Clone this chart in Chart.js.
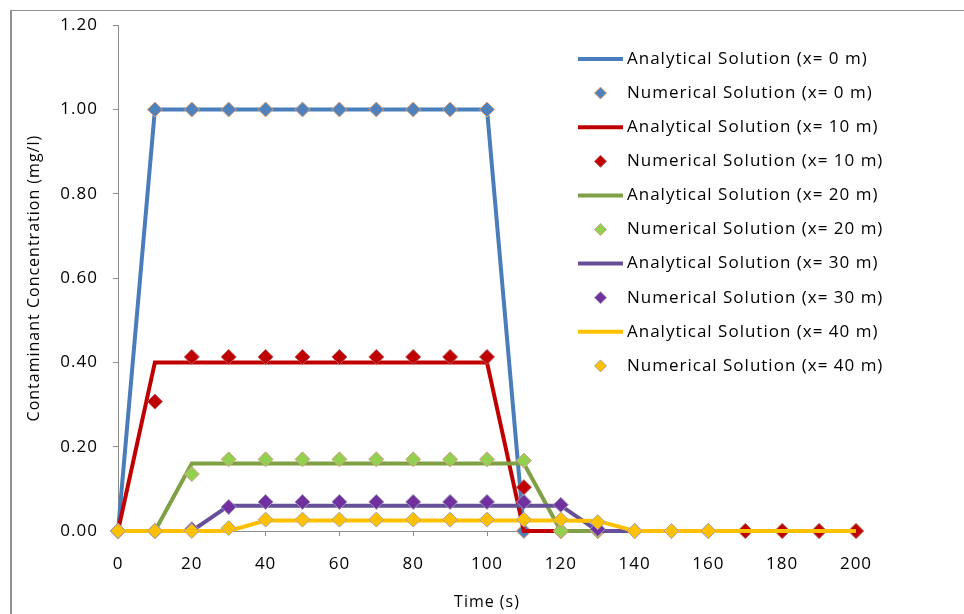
<!DOCTYPE html>
<html>
<head>
<meta charset="utf-8">
<script src="https://cdn.jsdelivr.net/npm/chart.js@4.4.1/dist/chart.umd.min.js"></script>
<style>
    body { margin: 0; background: #fff; }
    #contenedor { width: 964px; height: 614px; position: relative; }
</style>
</head>
<body>
<div id="contenedor"><canvas id="graficaconc"></canvas></div>
<script>
// tiempos (s)
var tiempo = [0,10,20,30,40,50,60,70,80,90,100,110,120,130,140,150,160,170,180,190,200];

// solucion analitica por distancia
var anal0  = [0,1,1,1,1,1,1,1,1,1,1,0,0,0,0,0,0,0,0,0,0];
var anal10 = [0,0.40,0.40,0.40,0.40,0.40,0.40,0.40,0.40,0.40,0.40,0,0,0,0,0,0,0,0,0,0];
var anal20 = [0,0,0.16,0.16,0.16,0.16,0.16,0.16,0.16,0.16,0.16,0.16,0,0,0,0,0,0,0,0,0];
var anal30 = [0,0,0,0.06,0.06,0.06,0.06,0.06,0.06,0.06,0.06,0.06,0.06,0,0,0,0,0,0,0,0];
var anal40 = [0,0,0,0,0.025,0.025,0.025,0.025,0.025,0.025,0.025,0.025,0.025,0.024,0,0,0,0,0,0,0];

// solucion numerica por distancia (null = sin dato)
var num0  = [0,1,1,1,1,1,1,1,1,1,1,0,0,0,0,0,0,0,0,0,0];
var num10 = [0,0.307,0.413,0.413,0.413,0.413,0.413,0.413,0.413,0.413,0.413,0.104,0,0,0,0,0,0,0,0,0];
var num20 = [0,0,0.135,0.17,0.17,0.17,0.17,0.17,0.17,0.17,0.17,0.167,0,0,0,0,0,null,null,null,null];
var num30 = [0,0,0.004,0.057,0.069,0.069,0.069,0.069,0.069,0.069,0.069,0.069,0.062,0.005,0,0,0,null,null,null,null];
var num40 = [0,0,0,0.007,0.027,0.027,0.027,0.027,0.027,0.027,0.027,0.027,0.027,0.021,0,0,0,null,null,null,null];

var ejeY = [0,0.2,0.4,0.6,0.8,1.0,1.2];

var fuente = 'Open Sans';

function puntos(valores){
    var res = [];
    for (var i = 0; i < tiempo.length; i++) {
        if (valores[i] !== null) res.push({x: tiempo[i], y: valores[i]});
    }
    return res;
}

function analitica(nombre, valores, color){
    return {
        label: nombre, data: puntos(valores), borderColor: color, backgroundColor: color,
        borderWidth: 4, pointRadius: 0, tension: 0, clip: false
    };
}

function numerica(nombre, valores, relleno, borde){
    return {
        label: nombre, data: puntos(valores), showLine: false, pointStyle: 'rectRot',
        pointRadius: 7.5, backgroundColor: relleno, borderColor: borde, borderWidth: 1, clip: false
    };
}

var series = [
    analitica('Analytical Solution (x= 0 m)', anal0, '#4A7EBB'),
    numerica('Numerical Solution (x= 0 m)', num0, '#4F81BD', '#E3A06A'),
    analitica('Analytical Solution (x= 10 m)', anal10, '#C00000'),
    numerica('Numerical Solution (x= 10 m)', num10, '#C00000', '#B8585A'),
    analitica('Analytical Solution (x= 20 m)', anal20, '#7FA044'),
    numerica('Numerical Solution (x= 20 m)', num20, '#92D050', '#D8A08C'),
    analitica('Analytical Solution (x= 30 m)', anal30, '#66509A'),
    numerica('Numerical Solution (x= 30 m)', num30, '#7030A0', '#A095B5'),
    analitica('Analytical Solution (x= 40 m)', anal40, '#FFC000'),
    numerica('Numerical Solution (x= 40 m)', num40, '#FFC000', '#A6A6A6')
];
// la ultima serie queda encima
series.forEach(function(s, i){ s.order = -i; });

// marco gris del grafico, y texto un poco mas espaciado
var marco = {
    id: 'marco',
    beforeDraw: function(chart){
        var ctx = chart.ctx;
        ctx.save();
        ctx.fillStyle = '#fff';
        ctx.fillRect(0, 0, chart.width, chart.height);
        ctx.fillStyle = '#909090';
        ctx.fillRect(10, 10, chart.width - 10, 1);
        ctx.fillRect(10, 10, 2, chart.height - 10);
        ctx.restore();
        ctx.letterSpacing = '1px';
    }
};

// leyenda dentro del area del grafico
var leyenda = {
    id: 'leyenda',
    afterDraw: function(chart){
        var ctx = chart.ctx;
        ctx.save();
        ctx.font = '17px "' + fuente + '"';
        ctx.textBaseline = 'middle';
        chart.data.datasets.forEach(function(ds, i){
            var y = 59 + i * 34.1;
            if (ds.showLine === false) {
                ctx.beginPath();
                ctx.moveTo(600.5, y - 6);
                ctx.lineTo(606.5, y);
                ctx.lineTo(600.5, y + 6);
                ctx.lineTo(594.5, y);
                ctx.closePath();
                ctx.fillStyle = ds.backgroundColor;
                ctx.fill();
                ctx.strokeStyle = ds.borderColor;
                ctx.lineWidth = 1;
                ctx.stroke();
            } else {
                ctx.beginPath();
                ctx.moveTo(578, y);
                ctx.lineTo(623, y);
                ctx.strokeStyle = ds.borderColor;
                ctx.lineWidth = 4;
                ctx.stroke();
            }
            ctx.fillStyle = '#000';
            ctx.fillText(ds.label, 627, y);
        });
        ctx.restore();
    }
};

Chart.defaults.font.family = fuente;
Chart.defaults.color = '#000';

var ctx = document.getElementById('graficaconc').getContext('2d');
var grafica = new Chart(ctx, {
    type: 'line',
    data: { datasets: series },
    plugins: [marco, leyenda],
    options: {
        responsive: true,
        maintainAspectRatio: false,
        animation: false,
        layout: { padding: { top: 22, right: 108, bottom: 0, left: 0 } },
        plugins: { legend: { display: false }, tooltip: { enabled: false } },
        scales: {
            x: {
                type: 'linear', min: 0, max: 200,
                afterFit: function(scale){ scale.height = 83; },
                ticks: { stepSize: 20, padding: 18, font: { size: 17 } },
                grid: { drawOnChartArea: false, tickLength: 5, color: '#8C8C8C' },
                border: { color: '#8C8C8C', width: 1 },
                title: { display: true, text: 'Time (s)', font: { size: 16, lineHeight: 1.2 }, padding: { top: 0, bottom: 2 } }
            },
            y: {
                min: 0, max: 1.2,
                afterFit: function(scale){ scale.width = 118; },
                afterBuildTicks: function(scale){ scale.ticks = ejeY.map(function(v){ return {value: v}; }); },
                ticks: { padding: 15, font: { size: 17 }, callback: function(v){ return Number(v).toFixed(2); } },
                grid: { drawOnChartArea: false, tickLength: 5, color: '#8C8C8C' },
                border: { color: '#8C8C8C', width: 1 },
                title: { display: true, text: 'Contaminant Concentration (mg/l)', font: { size: 16, lineHeight: 1.2 }, padding: { top: 25, bottom: 0 } }
            }
        }
    }
});
</script>
</body>
</html>
